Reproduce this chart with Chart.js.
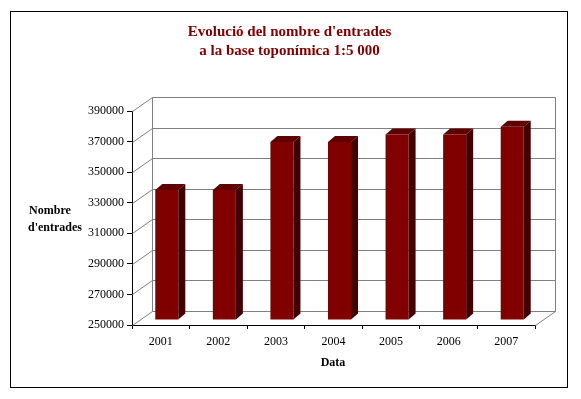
<!DOCTYPE html>
<html>
<head>
<meta charset="utf-8">
<script src="https://cdn.jsdelivr.net/npm/chart.js@4/dist/chart.umd.min.js"></script>
<style>
html,body{margin:0;padding:0;background:#fff;}
canvas{display:block;}
</style>
</head>
<body>
<canvas id="c" width="581" height="399"></canvas>
<script>
const titleLines = ["Evolució del nombre d'entrades", "a la base toponímica 1:5 000"];
const yTitleLines = ["Nombre", "d'entrades"];
const xTitle = "Data";
const categories = ["2001", "2002", "2003", "2004", "2005", "2006", "2007"];
const entries = [335000, 335000, 366500, 366500, 371300, 371300, 376500];
const yMin = 250000, yMax = 390000, yStep = 20000;

const FONT = "'Liberation Serif', 'Times New Roman', serif";
const WALL_DX = 20, WALL_DY = -14;   // depth of the 3D walls
const BAR_SHIFT_X = 6, BAR_SHIFT_Y = -5; // bars sit inside the floor
const BAR_DX = 7, BAR_DY = -6;       // bar depth

const threeD = {
  id: 'threeD',
  beforeDraw(chart) {
    const ctx = chart.ctx;
    ctx.save();
    ctx.fillStyle = '#fff';
    ctx.fillRect(0, 0, chart.width, chart.height);
    ctx.strokeStyle = '#000';
    ctx.lineWidth = 1;
    ctx.strokeRect(10.5, 11.5, 557, 376);
    // titles
    ctx.fillStyle = '#800000';
    ctx.font = "bold 15px " + FONT;
    ctx.textAlign = 'center';
    ctx.textBaseline = 'alphabetic';
    ctx.fillText(titleLines[0], 289.5, 35.5);
    ctx.fillText(titleLines[1], 289.5, 55);
    ctx.fillStyle = '#000';
    ctx.font = "bold 12px " + FONT;
    ctx.textBaseline = 'middle';
    ctx.fillText(yTitleLines[0], 50, 211);
    ctx.fillText(yTitleLines[1], 55, 228);
    ctx.fillText(xTitle, 333, 363);
    ctx.restore();
  },
  beforeDatasetsDraw(chart) {
    const ctx = chart.ctx;
    const y = chart.scales.y;
    const a = chart.chartArea;
    const L = a.left, R = a.right;
    ctx.save();
    ctx.strokeStyle = '#808080';
    ctx.lineWidth = 1;
    ctx.beginPath();
    for (let v = yMin; v <= yMax; v += yStep) {
      const py = Math.round(y.getPixelForValue(v)) + 0.5;
      ctx.moveTo(L + 0.5, py);
      ctx.lineTo(L + WALL_DX + 0.5, py + WALL_DY);
      ctx.lineTo(R + WALL_DX + 0.5, py + WALL_DY);
    }
    const top = Math.round(y.getPixelForValue(yMax)) + 0.5;
    const bot = Math.round(y.getPixelForValue(yMin)) + 0.5;
    ctx.moveTo(L + WALL_DX + 0.5, top + WALL_DY);
    ctx.lineTo(L + WALL_DX + 0.5, bot + WALL_DY);
    ctx.moveTo(R + WALL_DX + 0.5, top + WALL_DY);
    ctx.lineTo(R + WALL_DX + 0.5, bot + WALL_DY);
    ctx.moveTo(R + 0.5, bot);
    ctx.lineTo(R + WALL_DX + 0.5, bot + WALL_DY);
    ctx.stroke();
    ctx.restore();
    ctx.save();
    ctx.translate(BAR_SHIFT_X, BAR_SHIFT_Y);
  },
  afterDatasetsDraw(chart) {
    const ctx = chart.ctx;
    const meta = chart.getDatasetMeta(0);
    meta.data.forEach(bar => {
      const p = bar.getProps(['x', 'y', 'base', 'width'], true);
      const l = p.x - p.width / 2, r = p.x + p.width / 2;
      ctx.fillStyle = '#5e0000';
      ctx.beginPath();
      ctx.moveTo(l, p.y);
      ctx.lineTo(l + BAR_DX, p.y + BAR_DY);
      ctx.lineTo(r + BAR_DX, p.y + BAR_DY);
      ctx.lineTo(r, p.y);
      ctx.closePath();
      ctx.fill();
      ctx.fillStyle = '#400000';
      ctx.beginPath();
      ctx.moveTo(r, p.y);
      ctx.lineTo(r + BAR_DX, p.y + BAR_DY);
      ctx.lineTo(r + BAR_DX, p.base + BAR_DY);
      ctx.lineTo(r, p.base);
      ctx.closePath();
      ctx.fill();
    });
    ctx.restore();
  }
};

new Chart(document.getElementById('c'), {
  type: 'bar',
  data: {
    labels: categories,
    datasets: [{
      data: entries,
      base: yMin,
      backgroundColor: '#800000',
      borderWidth: 0,
      categoryPercentage: 1,
      barPercentage: 0.4,
      clip: false
    }]
  },
  options: {
    responsive: false,
    animation: false,
    devicePixelRatio: 1,
    layout: { padding: { top: 111, right: 46, bottom: 44, left: 0 } },
    plugins: { legend: { display: false }, tooltip: { enabled: false }, title: { display: false } },
    scales: {
      x: {
        grid: { display: true, drawOnChartArea: false, drawTicks: true, tickLength: 4, color: '#000', offset: true },
        border: { display: true, color: '#000' },
        ticks: { color: '#000', font: { family: FONT, size: 12 }, padding: 6, maxRotation: 0 },
        afterFit: s => { s.height = 30; }
      },
      y: {
        min: yMin, max: yMax,
        ticks: { stepSize: yStep, color: '#000', font: { family: FONT, size: 12 }, padding: 3, callback: v => String(v) },
        grid: { display: true, drawOnChartArea: false, drawTicks: true, tickLength: 5, color: '#000' },
        border: { display: true, color: '#000' },
        afterFit: s => { s.width = 132; }
      }
    }
  },
  plugins: [threeD]
});
</script>
</body>
</html>
